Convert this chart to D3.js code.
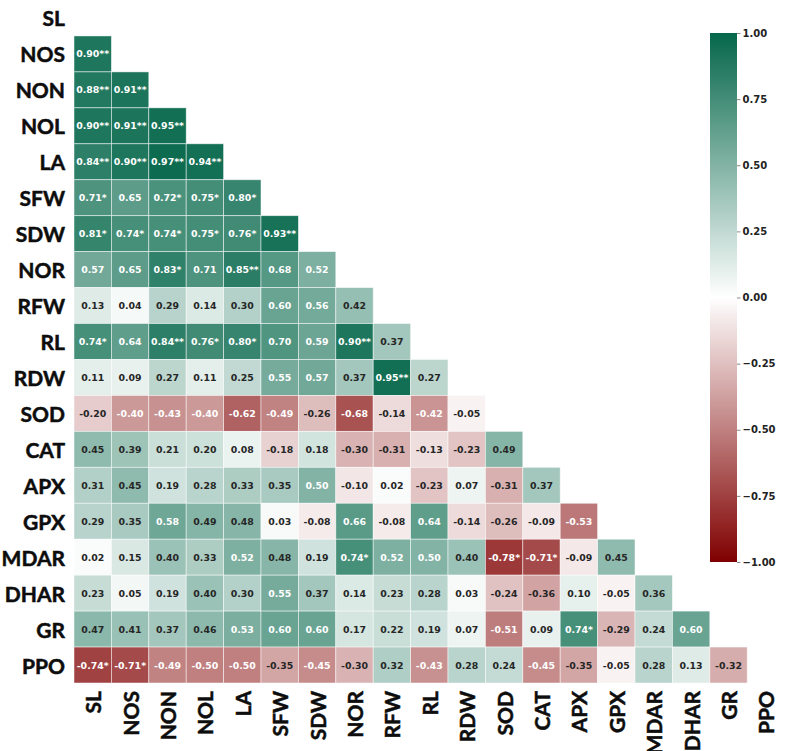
<!DOCTYPE html>
<html>
<head>
<meta charset="utf-8">
<script src="https://cdn.jsdelivr.net/npm/d3@7"></script>
<style>
  body { margin: 0; background: #fff; }
  svg { display: block; }
</style>
</head>
<body>
<div id="chart"></div>
<script>
// variables, same order on both axes
const traits = ['SL', 'NOS', 'NON', 'NOL', 'LA', 'SFW', 'SDW', 'NOR', 'RFW', 'RL',
  'RDW', 'SOD', 'CAT', 'APX', 'GPX', 'MDAR', 'DHAR', 'GR', 'PPO'];

// lower triangle, one row per trait (stars = significance)
const corrRows = [
  [],
  ['0.90**'],
  ['0.88**', '0.91**'],
  ['0.90**', '0.91**', '0.95**'],
  ['0.84**', '0.90**', '0.97**', '0.94**'],
  ['0.71*', '0.65', '0.72*', '0.75*', '0.80*'],
  ['0.81*', '0.74*', '0.74*', '0.75*', '0.76*', '0.93**'],
  ['0.57', '0.65', '0.83*', '0.71', '0.85**', '0.68', '0.52'],
  ['0.13', '0.04', '0.29', '0.14', '0.30', '0.60', '0.56', '0.42'],
  ['0.74*', '0.64', '0.84**', '0.76*', '0.80*', '0.70', '0.59', '0.90**', '0.37'],
  ['0.11', '0.09', '0.27', '0.11', '0.25', '0.55', '0.57', '0.37', '0.95**', '0.27'],
  ['-0.20', '-0.40', '-0.43', '-0.40', '-0.62', '-0.49', '-0.26', '-0.68', '-0.14', '-0.42', '-0.05'],
  ['0.45', '0.39', '0.21', '0.20', '0.08', '-0.18', '0.18', '-0.30', '-0.31', '-0.13', '-0.23', '0.49'],
  ['0.31', '0.45', '0.19', '0.28', '0.33', '0.35', '0.50', '-0.10', '0.02', '-0.23', '0.07', '-0.31', '0.37'],
  ['0.29', '0.35', '0.58', '0.49', '0.48', '0.03', '-0.08', '0.66', '-0.08', '0.64', '-0.14', '-0.26', '-0.09', '-0.53'],
  ['0.02', '0.15', '0.40', '0.33', '0.52', '0.48', '0.19', '0.74*', '0.52', '0.50', '0.40', '-0.78*', '-0.71*', '-0.09', '0.45'],
  ['0.23', '0.05', '0.19', '0.40', '0.30', '0.55', '0.37', '0.14', '0.23', '0.28', '0.03', '-0.24', '-0.36', '0.10', '-0.05', '0.36'],
  ['0.47', '0.41', '0.37', '0.46', '0.53', '0.60', '0.60', '0.17', '0.22', '0.19', '0.07', '-0.51', '0.09', '0.74*', '-0.29', '0.24', '0.60'],
  ['-0.74*', '-0.71*', '-0.49', '-0.50', '-0.50', '-0.35', '-0.45', '-0.30', '0.32', '-0.43', '0.28', '0.24', '-0.45', '-0.35', '-0.05', '0.28', '0.13', '-0.32']
];

const colorbarTicks = [1, 0.75, 0.5, 0.25, 0, -0.25, -0.5, -0.75, -1];

const width = 787, height = 751;

const cells = [];
corrRows.forEach((row, i) => {
  row.forEach((label, j) => {
    cells.push({ row: traits[i], col: traits[j], label: label, value: parseFloat(label) });
  });
});

const svg = d3.select('#chart')
  .append('svg')
  .attr('width', width)
  .attr('height', height);

const x = d3.scaleBand().domain(traits).range([74, 784.6]).padding(0);
const y = d3.scaleBand().domain(traits).range([0, 683]).padding(0);

const color = d3.scaleLinear()
  .domain([-1, 0, 1])
  .range(['#800000', '#ffffff', '#05674a'])
  .interpolate(d3.interpolateRgb);

// cells
svg.append('g')
  .selectAll('rect')
  .data(cells)
  .enter()
  .append('rect')
  .attr('x', d => x(d.col))
  .attr('y', d => y(d.row))
  .attr('width', x.bandwidth())
  .attr('height', y.bandwidth())
  .attr('fill', d => color(d.value))
  .attr('stroke', '#ffffff')
  .attr('stroke-opacity', 0.6)
  .attr('stroke-width', 0.8);

// annotations
svg.append('g')
  .selectAll('text')
  .data(cells)
  .enter()
  .append('text')
  .attr('x', d => x(d.col) + x.bandwidth() / 2)
  .attr('y', d => y(d.row) + y.bandwidth() / 2)
  .attr('text-anchor', 'middle')
  .attr('dominant-baseline', 'central')
  .attr('font-family', 'DejaVu Sans')
  .attr('font-weight', 'bold')
  .attr('font-size', 9.4)
  .attr('fill', d => (d.value >= 0.495 || d.value <= -0.375) ? '#ffffff' : '#262626')
  .text(d => d.label);

// y labels
svg.append('g')
  .selectAll('text')
  .data(traits)
  .enter()
  .append('text')
  .attr('x', 65)
  .attr('y', d => y(d) + y.bandwidth() / 2)
  .attr('text-anchor', 'end')
  .attr('dominant-baseline', 'central')
  .attr('font-family', 'Lato')
  .attr('font-weight', 'bold')
  .attr('font-size', 21)
  .attr('fill', '#0d0d0d')
  .attr('stroke', '#0d0d0d')
  .attr('stroke-width', 0.5)
  .text(d => d);

// x labels, rotated
svg.append('g')
  .selectAll('text')
  .data(traits)
  .enter()
  .append('text')
  .attr('transform', d => `translate(${x(d) + x.bandwidth() / 2},691) rotate(-90)`)
  .attr('text-anchor', 'end')
  .attr('dominant-baseline', 'central')
  .attr('font-family', 'Lato')
  .attr('font-weight', 'bold')
  .attr('font-size', 21)
  .attr('fill', '#0d0d0d')
  .attr('stroke', '#0d0d0d')
  .attr('stroke-width', 0.5)
  .text(d => d);

// colorbar
const cb = d3.scaleLinear().domain([1, -1]).range([33, 562]);
const defs = svg.append('defs');
const grad = defs.append('linearGradient')
  .attr('id', 'cbGrad')
  .attr('x1', 0).attr('y1', 0).attr('x2', 0).attr('y2', 1);
d3.range(0, 21).forEach(k => {
  const v = 1 - k / 10;
  grad.append('stop')
    .attr('offset', (k / 20 * 100) + '%')
    .attr('stop-color', color(v));
});

svg.append('rect')
  .attr('x', 710)
  .attr('y', cb(1))
  .attr('width', 27)
  .attr('height', cb(-1) - cb(1))
  .attr('fill', 'url(#cbGrad)');

const cbAxis = d3.axisRight(cb)
  .tickValues(colorbarTicks)
  .tickSize(3.5)
  .tickPadding(2)
  .tickFormat(d => d3.format('.2f')(d).replace('-', '\u2212'));

const cbG = svg.append('g')
  .attr('transform', 'translate(737,0)')
  .call(cbAxis);
cbG.select('.domain').remove();
cbG.selectAll('.tick line').attr('stroke', '#888');
cbG.selectAll('.tick text')
  .attr('font-family', 'DejaVu Sans')
  .attr('font-weight', 'bold')
  .attr('font-size', 10)
  .attr('fill', '#222');
</script>
</body>
</html>
